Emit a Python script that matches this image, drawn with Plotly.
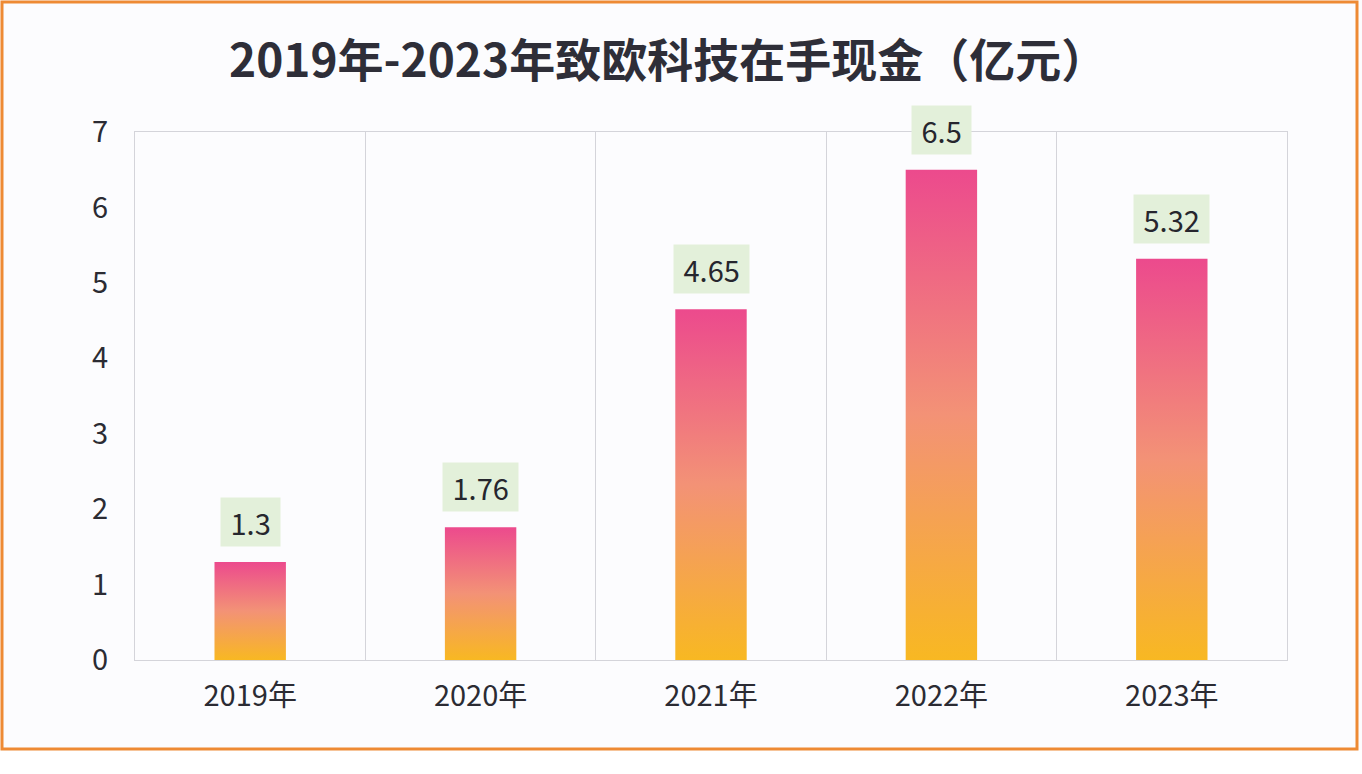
import plotly.graph_objects as go

categories = ["2019年", "2020年", "2021年", "2022年", "2023年"]
cash_values = [1.3, 1.76, 4.65, 6.5, 5.32]
value_labels = ["1.3", "1.76", "4.65", "6.5", "5.32"]
y_ticks = [0, 1, 2, 3, 4, 5, 6, 7]

W, H = 1362, 774
PL, PR, PT, PB = 135, 1287, 132, 660  # plot area in pixels
FONT = "Noto Sans CJK SC"
BAR_W = 0.31


def px_x(px):
    return (px - PL) / (PR - PL)


def px_y(py):
    return (PB - py) / (PB - PT)


fig = go.Figure()
for i, (cat, v) in enumerate(zip(categories, cash_values)):
    x0, x1 = i - BAR_W / 2, i + BAR_W / 2
    fig.add_trace(go.Scatter(
        x=[x0, x0, x1, x1, x0], y=[0, v, v, 0, 0],
        mode="lines", line=dict(width=0), fill="toself",
        fillgradient=dict(type="vertical",
                          colorscale=[[0, "#f8b822"], [0.5, "#f39276"], [1, "#ec4a8d"]]),
        hoverinfo="skip", showlegend=False, name=cat,
    ))

for i, (v, lab) in enumerate(zip(cash_values, value_labels)):
    fig.add_annotation(x=i, y=v, text="&nbsp;" + lab + "&nbsp;", showarrow=False,
                       yanchor="bottom", yshift=15, bgcolor="#e3f0da", borderpad=3,
                       font=dict(family=FONT, size=29, color="#26262e"))

fig.add_annotation(xref="paper", yref="paper", x=px_x(668), y=px_y(57),
                   xanchor="center", yanchor="middle", showarrow=False,
                   text="<b>2019年-2023年致欧科技在手现金（亿元）</b>",
                   font=dict(family=FONT, size=46, color="#2e2e38"))

# white strip below the frame
fig.add_shape(type="rect", xref="paper", yref="paper",
              x0=px_x(0), x1=px_x(W), y0=px_y(H), y1=px_y(750),
              line=dict(width=0), fillcolor="#ffffff", layer="below")

# orange frame
fig.add_shape(type="rect", xref="paper", yref="paper",
              x0=px_x(2), x1=px_x(1357), y0=px_y(749), y1=px_y(2),
              line=dict(color="#ee8a34", width=3), layer="above")

fig.update_layout(
    width=W, height=H,
    margin=dict(l=PL, r=W - PR, t=PT, b=H - PB),
    paper_bgcolor="#fcfcfe", plot_bgcolor="#fcfcfe",
    font=dict(family=FONT, color="#2b2b33"),
    xaxis=dict(range=[-0.5, 4.5], tickvals=list(range(len(categories))), ticktext=categories,
               showgrid=False, zeroline=False, showline=True, mirror=True,
               linecolor="#d4d4da", linewidth=1, ticklabelstandoff=10,
               tickfont=dict(size=29, family=FONT, color="#2b2b33"),
               minor=dict(tickvals=[0.5, 1.5, 2.5, 3.5], showgrid=True,
                          gridcolor="#d4d4da", gridwidth=1, ticks="")),
    yaxis=dict(range=[0, 7], tickvals=y_ticks, showgrid=False, zeroline=False,
               showline=True, mirror=True, linecolor="#d4d4da", linewidth=1,
               ticklabelstandoff=20, tickfont=dict(size=29, family=FONT, color="#2b2b33")),
)

fig.write_html("out.html", config={"displayModeBar": False},
               post_script="document.body.style.margin='0';")
